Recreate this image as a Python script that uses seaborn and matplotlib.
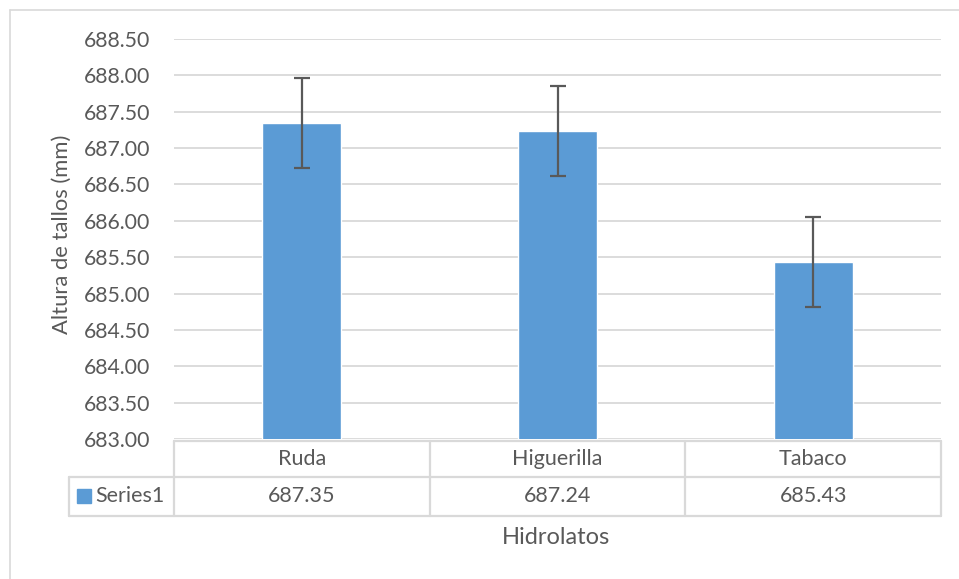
import numpy as np
import pandas as pd
import matplotlib
matplotlib.use("Agg")
import matplotlib.pyplot as plt
import seaborn as sns

# datos del grafico
hidrolatos = ["Ruda", "Higuerilla", "Tabaco"]
altura = [687.35, 687.24, 685.43]
error = [0.62, 0.62, 0.62]
serie = "Series1"

df = pd.DataFrame({"Hidrolatos": hidrolatos, "Altura": altura})

sns.set_style("white")
plt.rcParams["font.family"] = ["Lato", "DejaVu Sans"]

W, H = 959, 579
fig = plt.figure(figsize=(W / 100, H / 100), dpi=100)
gris_txt = "#595959"
gris_lin = "#D9D9D9"
azul = "#5B9BD5"

# area del grafico en pixeles
x0, x1 = 174, 941
y_top, y_bot = 39, 439
ax = fig.add_axes([x0 / W, 1 - y_bot / H, (x1 - x0) / W, (y_bot - y_top) / H])

sns.barplot(data=df, x="Hidrolatos", y="Altura", color=azul, width=0.31,
            saturation=1, ax=ax, zorder=3)
ax.errorbar(range(len(hidrolatos)), altura, yerr=error, fmt="none",
            ecolor=gris_txt, elinewidth=1.6, capsize=6, capthick=1.6, zorder=4)

ax.set_ylim(683.0, 688.5)
ax.set_xlim(-0.5, len(hidrolatos) - 0.5)
ticks = np.arange(683.0, 688.51, 0.5)
ax.set_yticks(ticks)
ax.set_yticklabels([f"{t:.2f}" for t in ticks], color=gris_txt, fontsize=15.3)
ax.tick_params(axis="y", length=0, pad=17)
ax.set_xticks([])
ax.set_xlabel("")
ax.set_ylabel("Altura de tallos (mm)", color=gris_txt, fontsize=15.8, va="center")
ax.yaxis.set_label_coords((62 - x0) / (x1 - x0), (y_bot - 234) / (y_bot - y_top))
ax.yaxis.grid(True, color=gris_lin, linewidth=1.3, zorder=0)
for s in ax.spines.values():
    s.set_visible(False)

# tabla de datos debajo del eje
def fx(px):
    return px / W

def fy(py):
    return 1 - py / H

r0, r1, r2 = 440.5, 477, 515.5
leg_x = 69
col_w = (x1 - x0) / len(hidrolatos)
lkw = dict(color=gris_lin, linewidth=1.6, transform=fig.transFigure)
fig.add_artist(plt.Line2D([fx(x0), fx(x1)], [fy(r0), fy(r0)], **lkw))
fig.add_artist(plt.Line2D([fx(leg_x), fx(x1)], [fy(r1), fy(r1)], **lkw))
fig.add_artist(plt.Line2D([fx(leg_x), fx(x1)], [fy(r2), fy(r2)], **lkw))
fig.add_artist(plt.Line2D([fx(leg_x), fx(leg_x)], [fy(r1), fy(r2)], **lkw))
for i in range(len(hidrolatos) + 1):
    xx = x0 + i * col_w
    fig.add_artist(plt.Line2D([fx(xx), fx(xx)], [fy(r0), fy(r2)], **lkw))

for i, (h, v) in enumerate(zip(hidrolatos, altura)):
    cx = x0 + (i + 0.5) * col_w
    fig.text(fx(cx), fy((r0 + r1) / 2), h, ha="center", va="center",
             color=gris_txt, fontsize=15.5)
    fig.text(fx(cx), fy((r1 + r2) / 2), f"{v:.2f}", ha="center", va="center",
             color=gris_txt, fontsize=15.5)

fig.add_artist(plt.Rectangle((fx(77), fy(503)), 14 / W, 14 / H, color=azul,
                             transform=fig.transFigure))
fig.text(fx(95), fy((r1 + r2) / 2), serie, ha="left", va="center",
         color=gris_txt, fontsize=15.5)

fig.text(fx(556.5), fy(537.5), "Hidrolatos", ha="center", va="center",
         color=gris_txt, fontsize=17)

# borde del grafico
bkw = dict(color=gris_lin, linewidth=1.2, transform=fig.transFigure)
fig.add_artist(plt.Line2D([fx(10), fx(10)], [fy(10), 0], **bkw))
fig.add_artist(plt.Line2D([fx(10), 1], [fy(10), fy(10)], **bkw))

fig.savefig("out.png", dpi=100, facecolor="white")
